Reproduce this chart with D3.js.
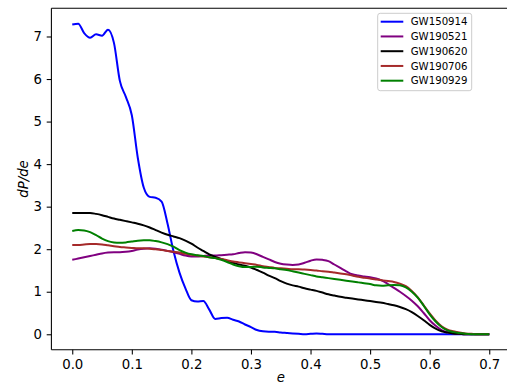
<!DOCTYPE html>
<html>
<head>
<meta charset="utf-8">
<script src="https://cdn.jsdelivr.net/npm/d3@7/dist/d3.min.js"></script>
<style>
  html, body { margin: 0; padding: 0; background: #fff; }
  svg { display: block; }
  text { font-family: "DejaVu Sans", sans-serif; fill: #000; }
</style>
</head>
<body>
<svg id="chart" width="507" height="386"></svg>
<script>
// Eccentricity grid shared by every posterior curve
const eccentricity = d3.range(0, 71).map(i => +(i * 0.01).toFixed(2));

const seriesNames = ["GW150914", "GW190521", "GW190620", "GW190706", "GW190929"];
const seriesColors = ["#0000ff", "#800080", "#000000", "#a52a2a", "#008000"];

// dP/de for each event, one value per eccentricity grid point
const gw150914 = [7.28, 7.30, 7.08, 6.97, 7.05, 7.02, 7.16, 6.85, 5.95, 5.58,
  5.15, 4.15, 3.45, 3.23, 3.21, 3.12, 2.60, 1.95, 1.45, 1.08,
  0.80, 0.77, 0.78, 0.58, 0.36, 0.38, 0.39, 0.34, 0.30, 0.23,
  0.17, 0.10, 0.07, 0.06, 0.06, 0.04, 0.03, 0.02, 0.01, 0.00,
  0.01, 0.02, 0.01, 0.00, 0.00, 0.00, 0.00, 0.00, 0.00, 0.00,
  0.00, 0.00, 0.00, 0.00, 0.00, 0.00, 0.00, 0.00, 0.00, 0.00,
  0.00, 0.00, 0.00, 0.00, 0.00, 0.00, 0.00, 0.00, 0.00, 0.00, 0.00];

const gw190521 = [1.75, 1.78, 1.81, 1.84, 1.87, 1.90, 1.92, 1.93, 1.93, 1.94,
  1.96, 1.99, 2.01, 2.02, 2.01, 1.99, 1.96, 1.93, 1.89, 1.85,
  1.83, 1.83, 1.84, 1.85, 1.85, 1.86, 1.87, 1.88, 1.91, 1.93,
  1.92, 1.88, 1.82, 1.76, 1.70, 1.66, 1.64, 1.63, 1.64, 1.68,
  1.73, 1.76, 1.75, 1.72, 1.64, 1.56, 1.48, 1.41, 1.38, 1.36,
  1.34, 1.31, 1.26, 1.18, 1.09, 1.00, 0.90, 0.79, 0.66, 0.50,
  0.33, 0.20, 0.10, 0.05, 0.02, 0.01, 0.00, 0.00, 0.00, 0.00, 0.00];

const gw190620 = [2.85, 2.85, 2.85, 2.85, 2.83, 2.80, 2.76, 2.72, 2.69, 2.66,
  2.63, 2.60, 2.56, 2.51, 2.45, 2.39, 2.34, 2.30, 2.26, 2.20,
  2.13, 2.04, 1.96, 1.88, 1.82, 1.77, 1.72, 1.68, 1.64, 1.61,
  1.57, 1.51, 1.45, 1.38, 1.32, 1.25, 1.19, 1.15, 1.12, 1.08,
  1.05, 1.02, 0.98, 0.94, 0.91, 0.88, 0.86, 0.84, 0.82, 0.80,
  0.78, 0.76, 0.74, 0.71, 0.68, 0.64, 0.59, 0.52, 0.43, 0.33,
  0.22, 0.13, 0.07, 0.04, 0.02, 0.01, 0.00, 0.00, 0.00, 0.00, 0.00];

const gw190706 = [2.10, 2.10, 2.11, 2.12, 2.12, 2.11, 2.09, 2.07, 2.05, 2.04,
  2.03, 2.02, 2.02, 2.01, 2.00, 1.98, 1.96, 1.94, 1.92, 1.89,
  1.87, 1.85, 1.83, 1.81, 1.79, 1.77, 1.74, 1.71, 1.69, 1.67,
  1.65, 1.63, 1.60, 1.58, 1.56, 1.55, 1.54, 1.53, 1.53, 1.52,
  1.51, 1.50, 1.48, 1.47, 1.45, 1.43, 1.41, 1.38, 1.35, 1.33,
  1.31, 1.29, 1.27, 1.25, 1.23, 1.19, 1.13, 1.02, 0.87, 0.68,
  0.49, 0.32, 0.19, 0.11, 0.07, 0.04, 0.02, 0.01, 0.00, 0.00, 0.00];

const gw190929 = [2.43, 2.45, 2.44, 2.40, 2.33, 2.25, 2.19, 2.16, 2.15, 2.16,
  2.18, 2.20, 2.21, 2.21, 2.19, 2.16, 2.12, 2.06, 1.98, 1.92,
  1.88, 1.86, 1.84, 1.81, 1.79, 1.75, 1.70, 1.64, 1.60, 1.58,
  1.58, 1.59, 1.57, 1.56, 1.55, 1.53, 1.51, 1.48, 1.45, 1.42,
  1.39, 1.36, 1.34, 1.32, 1.30, 1.28, 1.26, 1.24, 1.22, 1.20,
  1.18, 1.15, 1.14, 1.15, 1.16, 1.15, 1.10, 1.00, 0.86, 0.67,
  0.47, 0.30, 0.17, 0.09, 0.05, 0.03, 0.01, 0.00, 0.00, 0.00, 0.00];

const seriesValues = [gw150914, gw190521, gw190620, gw190706, gw190929];

const xTicks = [0.0, 0.1, 0.2, 0.3, 0.4, 0.5, 0.6, 0.7];
const yTicks = [0, 1, 2, 3, 4, 5, 6, 7];

const svg = d3.select("#chart");

// Axes box (the right edge runs just past the page)
const boxLeft = 51.4, boxRight = 510.1, boxTop = 8.2, boxBottom = 349.8;

const x = d3.scaleLinear().domain([-0.035, 0.735]).range([boxLeft, boxRight]);
const y = d3.scaleLinear().domain([-0.365, 7.665]).range([boxBottom, boxTop]);

const plot = svg.append("g");

// Curves
const line = d3.line()
  .x((d, i) => x(eccentricity[i]))
  .y(d => y(d))
  .curve(d3.curveMonotoneX);

seriesValues.forEach((vals, k) => {
  plot.append("path")
    .datum(vals)
    .attr("fill", "none")
    .attr("stroke", seriesColors[k])
    .attr("stroke-width", 2)
    .attr("stroke-linejoin", "round")
    .attr("stroke-linecap", "butt")
    .attr("d", line);
});

// Spines
const spine = svg.append("g")
  .attr("stroke", "#000")
  .attr("stroke-width", 1.07)
  .attr("fill", "none");
spine.append("line").attr("x1", boxLeft).attr("x2", boxLeft).attr("y1", boxTop).attr("y2", boxBottom);
spine.append("line").attr("x1", boxLeft).attr("x2", boxRight).attr("y1", boxBottom).attr("y2", boxBottom);
spine.append("line").attr("x1", boxLeft).attr("x2", boxRight).attr("y1", boxTop).attr("y2", boxTop);
spine.append("line").attr("x1", boxRight).attr("x2", boxRight).attr("y1", boxTop).attr("y2", boxBottom);

// Axes
const xAxis = d3.axisBottom(x)
  .tickValues(xTicks)
  .tickFormat(d3.format(".1f"))
  .tickSize(4.7)
  .tickPadding(4.7);
const gx = svg.append("g")
  .attr("transform", `translate(0,${boxBottom})`)
  .call(xAxis);
gx.select(".domain").remove();

const yAxis = d3.axisLeft(y)
  .tickValues(yTicks)
  .tickFormat(d3.format("d"))
  .tickSize(4.7)
  .tickPadding(4.7);
const gy = svg.append("g")
  .attr("transform", `translate(${boxLeft},0)`)
  .call(yAxis);
gy.select(".domain").remove();

[gx, gy].forEach(g => {
  g.selectAll(".tick line").attr("stroke", "#000").attr("stroke-width", 1.07);
  g.selectAll(".tick text")
    .attr("font-family", "DejaVu Sans")
    .attr("font-size", 13.3)
    .attr("fill", "#000");
});

// Axis titles
svg.append("text")
  .attr("x", x(0.35))
  .attr("y", 382)
  .attr("text-anchor", "middle")
  .attr("font-size", 13.3)
  .attr("font-style", "italic")
  .text("e");

svg.append("text")
  .attr("transform", `translate(27.5,${(boxTop + boxBottom) / 2}) rotate(-90)`)
  .attr("text-anchor", "middle")
  .attr("font-size", 13.3)
  .attr("font-style", "italic")
  .text("dP/de");

// Legend
const legend = svg.append("g").attr("transform", "translate(377.7,13.3)");
legend.append("rect")
  .attr("x", 0).attr("y", 0)
  .attr("width", 94).attr("height", 77.4)
  .attr("rx", 2.5)
  .attr("fill", "#fff")
  .attr("fill-opacity", 0.8)
  .attr("stroke", "#cccccc")
  .attr("stroke-width", 1);

seriesNames.forEach((name, k) => {
  const cy = 8.4 + k * 14.75;
  legend.append("line")
    .attr("x1", 3).attr("x2", 25.6)
    .attr("y1", cy).attr("y2", cy)
    .attr("stroke", seriesColors[k])
    .attr("stroke-width", 2);
  legend.append("text")
    .attr("x", 33)
    .attr("y", cy)
    .attr("dy", "0.36em")
    .attr("font-size", 10.2)
    .text(name);
});
</script>
</body>
</html>
